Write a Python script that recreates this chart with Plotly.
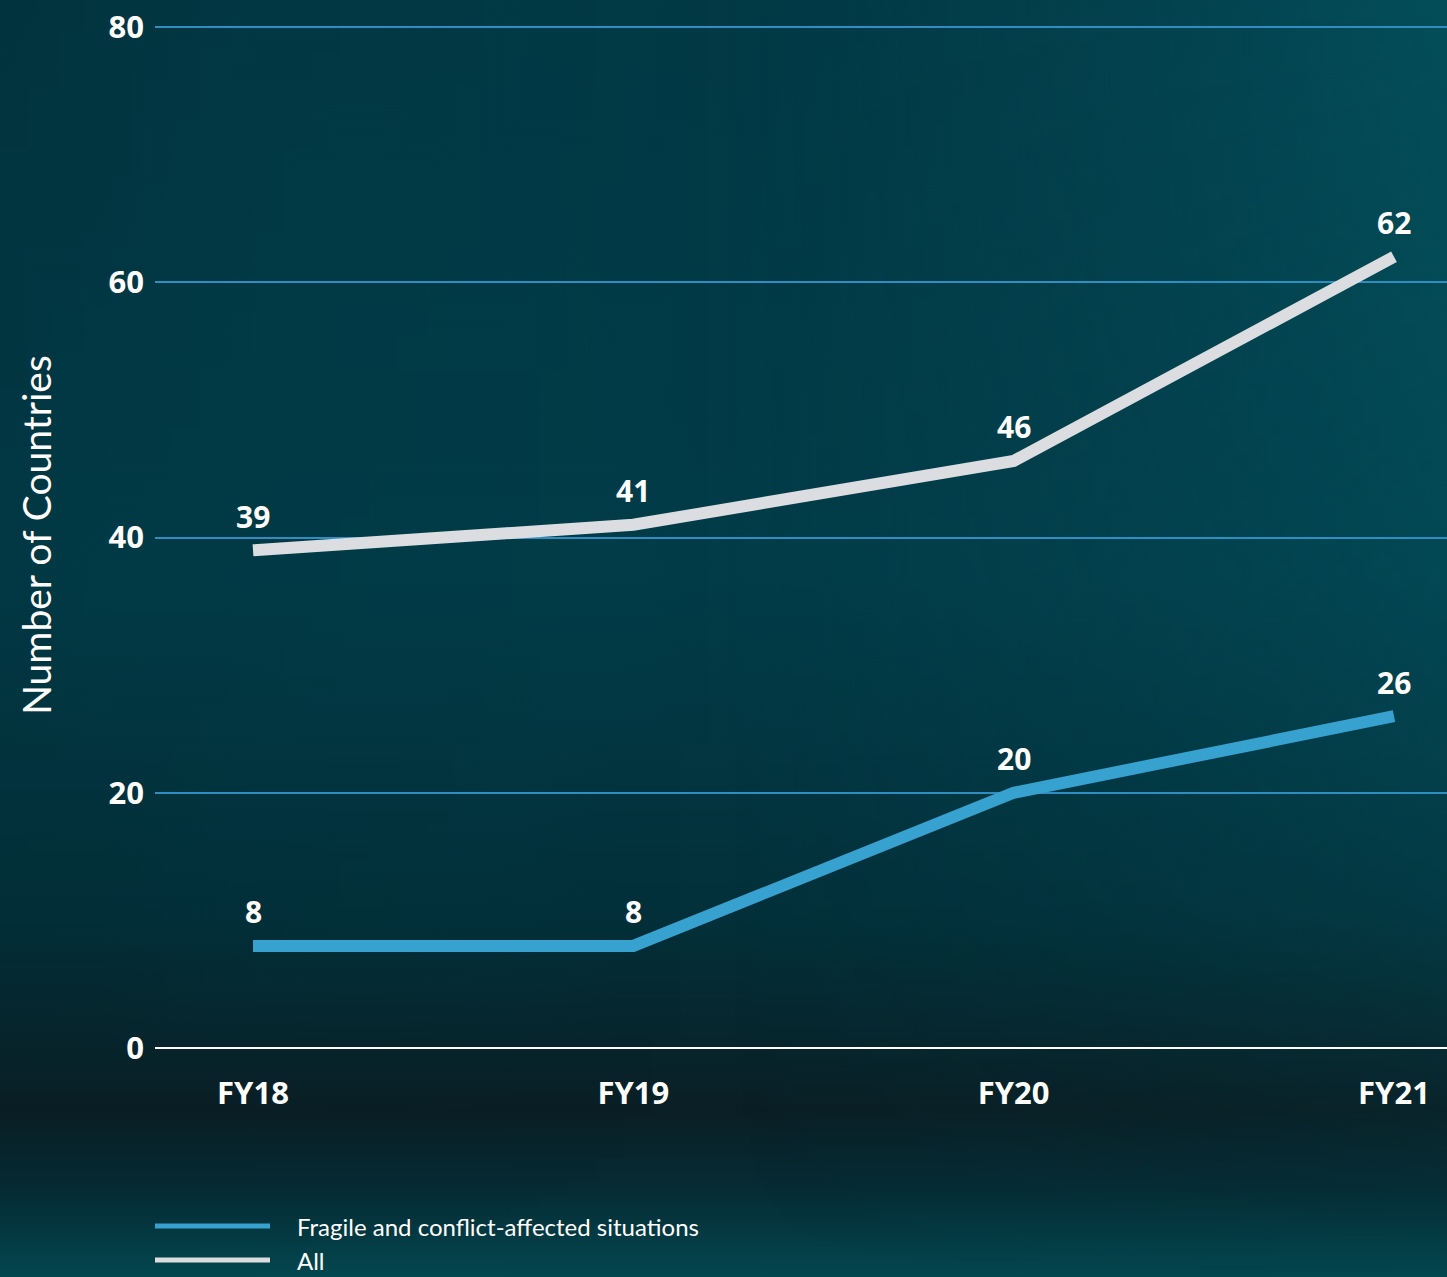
import base64
import plotly.graph_objects as go

# ---------------- data ----------------
categories = ["FY18", "FY19", "FY20", "FY21"]
fcs_values = [8, 8, 20, 26]
all_values = [39, 41, 46, 62]
series_names = ["Fragile and conflict-affected situations", "All"]
y_ticks = [0, 20, 40, 60, 80]

# ---------------- style ----------------
W, H = 1447, 1277
Y_TOP = 80.4
PX_PER_UNIT = (1048 - 27) / 80
ML, MR, MB = 155, 0, H - 1048
MT = int(round(27 - (Y_TOP - 80) * PX_PER_UNIT))
PW, PH = W - ML - MR, H - MT - MB
BLUE = "#37a1d0"
GREY = "#dcdde0"
GRID = "#2e8ec2"
BOLD_FONT = "Open Sans"
LIGHT_FONT = "Lato"

svg = f"""<svg xmlns='http://www.w3.org/2000/svg' width='{W}' height='{H}' viewBox='0 0 {W} {H}' preserveAspectRatio='none'>
<defs>
<linearGradient id='v' x1='0' y1='0' x2='0' y2='1'>
<stop offset='0' stop-color='#023945'/>
<stop offset='0.45' stop-color='#023c48'/>
<stop offset='0.72' stop-color='#03303a'/>
<stop offset='0.87' stop-color='#0a1f25'/>
<stop offset='0.93' stop-color='#062b34'/>
<stop offset='1' stop-color='#03474f'/>
</linearGradient>
<linearGradient id='h' x1='0' y1='0' x2='1' y2='0'>
<stop offset='0' stop-color='#000000' stop-opacity='0.10'/>
<stop offset='0.5' stop-color='#05505c' stop-opacity='0.0'/>
<stop offset='1' stop-color='#06707c' stop-opacity='0.38'/>
</linearGradient>
<linearGradient id='hm' x1='0' y1='0' x2='0' y2='1'>
<stop offset='0' stop-color='white' stop-opacity='1'/>
<stop offset='0.7' stop-color='white' stop-opacity='0.4'/>
<stop offset='1' stop-color='white' stop-opacity='0.0'/>
</linearGradient>
<mask id='m'><rect width='{W}' height='{H}' fill='url(#hm)'/></mask>
</defs>
<rect width='{W}' height='{H}' fill='url(#v)'/>
<rect width='{W}' height='{H}' fill='url(#h)' mask='url(#m)'/>
</svg>"""
bg_src = "data:image/svg+xml;base64," + base64.b64encode(svg.encode()).decode()

fig = go.Figure()
fig.add_trace(go.Scatter(x=categories, y=fcs_values, mode="lines", name=series_names[0],
                         line=dict(color=BLUE, width=12), showlegend=False, hoverinfo="x+y"))
fig.add_trace(go.Scatter(x=categories, y=all_values, mode="lines", name=series_names[1],
                         line=dict(color=GREY, width=12), showlegend=False, hoverinfo="x+y"))

annotations = []
for series in (fcs_values, all_values):
    for c, v in zip(categories, series):
        annotations.append(dict(x=c, y=v, xref="x", yref="y", text=str(v), showarrow=False,
                                yshift=34, font=dict(family=BOLD_FONT, size=30, color="white", weight=700)))

# manual legend
leg_rows = [(series_names[0], BLUE, 1226), (series_names[1], GREY, 1260)]
shapes = []
for name, col, py in leg_rows:
    yp = (H - MB - py) / PH
    shapes.append(dict(type="line", xref="paper", yref="paper", x0=0, x1=115 / PW, y0=yp, y1=yp,
                       line=dict(color=col, width=5)))
    annotations.append(dict(xref="paper", yref="paper", x=140 / PW, y=yp, text=name, showarrow=False,
                            xanchor="left", yanchor="middle",
                            font=dict(family=LIGHT_FONT, size=24, color="white")))

x_lo = -(253 - ML) / ((1394 - 253) / 3)
x_hi = (W - MR - 253) / ((1394 - 253) / 3)

fig.update_layout(
    width=W, height=H,
    margin=dict(l=ML, r=MR, t=MT, b=MB, pad=0),
    paper_bgcolor="#032f3a",
    plot_bgcolor="rgba(0,0,0,0)",
    images=[dict(source=bg_src, xref="paper", yref="paper", x=-ML / PW, y=1 + MT / PH,
                 sizex=W / PW, sizey=H / PH, xanchor="left", yanchor="top",
                 sizing="stretch", layer="below")],
    xaxis=dict(type="category", range=[x_lo, x_hi], showgrid=False, zeroline=False, showline=False,
               ticks="", ticklabelstandoff=24,
               tickfont=dict(family=BOLD_FONT, size=31, color="white", weight=700)),
    yaxis=dict(range=[0, Y_TOP], tickvals=y_ticks, showgrid=True, gridcolor=GRID, gridwidth=2,
               zeroline=True, zerolinecolor="white", zerolinewidth=2, showline=False,
               ticks="", ticklabelstandoff=10,
               tickfont=dict(family=BOLD_FONT, size=31, color="white", weight=700),
               title=dict(text="Number of Countries", standoff=44,
                          font=dict(family=LIGHT_FONT, size=39, color="white", weight=400))),
    annotations=annotations,
    shapes=shapes,
    showlegend=False,
)

fig.write_html("out.html", config={"displayModeBar": False},
               post_script="document.body.style.margin='0';document.body.style.padding='0';")
